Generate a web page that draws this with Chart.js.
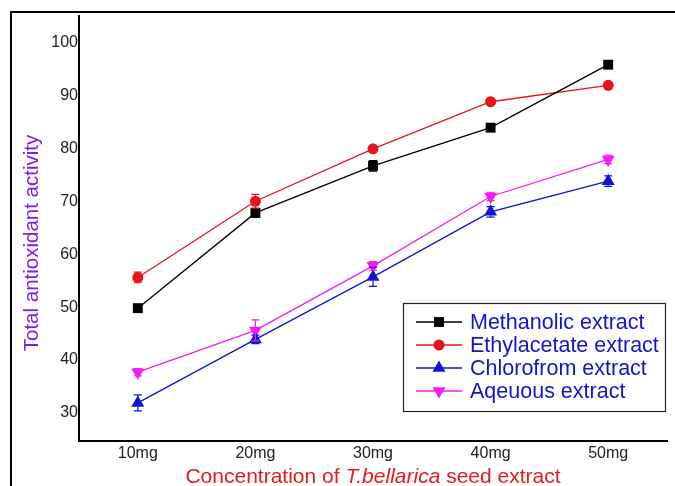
<!DOCTYPE html>
<html>
<head>
<meta charset="utf-8">
<script src="https://cdn.jsdelivr.net/npm/chart.js@4.4.0/dist/chart.umd.min.js"></script>
<style>
  html, body { margin: 0; padding: 0; background: #fff; overflow: hidden; }
  #marco { position: absolute; left: 10px; top: 11px; width: 720px; height: 520px; border: 2px solid #000; }
  #lienzo { position: absolute; left: 0; top: 0; }
</style>
</head>
<body>
<div id="marco"></div>
<canvas id="lienzo" width="675" height="486"></canvas>
<script>
// Datos
const categorias = ["10mg", "20mg", "30mg", "40mg", "50mg"];
const metanolico = [49.8, 67.8, 76.7, 83.9, 95.8];
const etilacetato = [55.6, 70.0, 79.9, 88.8, 91.9];
const cloroformo = [31.9, 43.9, 55.7, 68.0, 73.8];
const acuoso = [37.7, 45.6, 57.8, 70.9, 77.9];
// barras de error (aprox.)
const errMetanolico = [0.5, 0.8, 1.0, 0.5, 0.5];
const errEtilacetato = [1.0, 1.3, 0.6, 0.5, 0.5];
const errCloroformo = [1.5, 0.8, 1.8, 1.0, 1.0];
const errAcuoso = [0.7, 2.0, 0.8, 0.8, 0.8];
const ticksY = [30, 40, 50, 60, 70, 80, 90, 100];

const fuente = "'Liberation Sans', Arial, sans-serif";

const series = [
    { label: "Methanolic extract", data: metanolico, err: errMetanolico, color: "#000000", estilo: "rect", radio: 7, rot: 0 },
    { label: "Ethylacetate extract", data: etilacetato, err: errEtilacetato, color: "#e8141c", estilo: "circle", radio: 5.5, rot: 0 },
    { label: "Chlorofrom extract", data: cloroformo, err: errCloroformo, color: "#1212d6", estilo: "triangle", radio: 7.5, rot: 0 },
    { label: "Aqeuous extract", data: acuoso, err: errAcuoso, color: "#f01ef0", estilo: "triangle", radio: 7.5, rot: 180 }
];

// dibuja un marcador simple (para la leyenda)
function marcador(ctx, estilo, r, rot, x, y, color) {
    ctx.save();
    ctx.fillStyle = color;
    ctx.translate(x, y);
    ctx.rotate(rot * Math.PI / 180);
    ctx.beginPath();
    if (estilo === "rect") {
        const s = r * Math.SQRT1_2;
        ctx.rect(-s, -s, 2 * s, 2 * s);
    } else if (estilo === "circle") {
        ctx.arc(0, 0, r, 0, Math.PI * 2);
    } else {
        for (let i = 0; i < 3; i++) {
            const a = -Math.PI / 2 + i * 2 * Math.PI / 3;
            const px = Math.cos(a) * r, py = Math.sin(a) * r;
            if (i === 0) ctx.moveTo(px, py); else ctx.lineTo(px, py);
        }
        ctx.closePath();
    }
    ctx.fill();
    ctx.restore();
}

// barras de error con las escalas del grafico
const barrasError = {
    id: "barrasError",
    afterDatasetsDraw(chart) {
        const ctx = chart.ctx;
        const x = chart.scales.x, y = chart.scales.y;
        chart.data.datasets.forEach((ds, i) => {
            const err = series[i].err;
            ctx.save();
            ctx.strokeStyle = ds.borderColor;
            ctx.lineWidth = 1.2;
            ds.data.forEach((v, j) => {
                const px = x.getPixelForValue(j);
                const yA = y.getPixelForValue(v + err[j]);
                const yB = y.getPixelForValue(v - err[j]);
                ctx.beginPath();
                ctx.moveTo(px, yA); ctx.lineTo(px, yB);
                ctx.moveTo(px - 4, yA); ctx.lineTo(px + 4, yA);
                ctx.moveTo(px - 4, yB); ctx.lineTo(px + 4, yB);
                ctx.stroke();
            });
            ctx.restore();
        });
    }
};

// leyenda dentro del area y titulos de los ejes
const extras = {
    id: "extras",
    afterDraw(chart) {
        const ctx = chart.ctx;
        ctx.save();
        // caja de la leyenda
        ctx.fillStyle = "#fff";
        ctx.fillRect(403, 303, 263, 109);
        ctx.strokeStyle = "#222";
        ctx.lineWidth = 1.2;
        ctx.strokeRect(403.5, 303.5, 262, 108);
        const filas = [322, 345, 368, 391];
        series.forEach((s, i) => {
            const yy = filas[i];
            ctx.strokeStyle = s.color;
            ctx.lineWidth = 1.3;
            ctx.beginPath();
            ctx.moveTo(416, yy); ctx.lineTo(462, yy);
            ctx.stroke();
            marcador(ctx, s.estilo, s.radio, s.rot, 439, yy, s.color);
            ctx.fillStyle = "#1414c8";
            ctx.font = "21.5px " + fuente;
            ctx.textBaseline = "middle";
            ctx.textAlign = "left";
            ctx.fillText(s.label, 470, yy + 1);
        });

        // titulo eje x (con cursiva)
        const partes = [
            { t: "Concentration of ", f: "21px " + fuente },
            { t: "T.bellarica", f: "italic 21px " + fuente },
            { t: " seed extract", f: "21px " + fuente }
        ];
        let ancho = 0;
        partes.forEach(p => { ctx.font = p.f; ancho += ctx.measureText(p.t).width; });
        const area = chart.chartArea;
        let xx = (area.left + area.right) / 2 - ancho / 2;
        ctx.fillStyle = "#e31b1b";
        ctx.textBaseline = "middle";
        ctx.textAlign = "left";
        partes.forEach(p => {
            ctx.font = p.f;
            ctx.fillText(p.t, xx, 477);
            xx += ctx.measureText(p.t).width;
        });

        // titulo eje y
        ctx.translate(32, 243);
        ctx.rotate(-Math.PI / 2);
        ctx.font = "20.5px " + fuente;
        ctx.fillStyle = "#7d1ee6";
        ctx.textAlign = "center";
        ctx.fillText("Total antioxidant activity", 0, 0);
        ctx.restore();
    }
};

const datasets = series.map(s => ({
    label: s.label,
    data: s.data,
    borderColor: s.color,
    backgroundColor: s.color,
    borderWidth: 1.3,
    pointStyle: s.estilo,
    pointRadius: s.radio,
    pointRotation: s.rot,
    pointBorderWidth: 0,
    pointBackgroundColor: s.color,
    tension: 0
}));

new Chart(document.getElementById("lienzo"), {
    type: "line",
    data: { labels: categorias, datasets },
    options: {
        responsive: false,
        animation: false,
        layout: { padding: { left: 0, top: 16, right: 8, bottom: 0 } },
        plugins: {
            legend: { display: false },
            tooltip: { enabled: false }
        },
        scales: {
            x: {
                offset: true,
                grid: { display: false, drawTicks: false },
                border: { display: true, color: "#000", width: 2 },
                ticks: { color: "#222", font: { family: fuente, size: 16 }, padding: 3 },
                afterFit: s => { s.height = 45; }
            },
            y: {
                min: 24.7,
                max: 105,
                grid: { display: false, drawTicks: false },
                border: { display: true, color: "#000", width: 2 },
                afterBuildTicks: s => { s.ticks = ticksY.map(v => ({ value: v })); },
                ticks: { color: "#222", font: { family: fuente, size: 16 }, padding: 1 },
                afterFit: s => { s.width = 79; }
            }
        }
    },
    plugins: [barrasError, extras]
});
</script>
</body>
</html>
